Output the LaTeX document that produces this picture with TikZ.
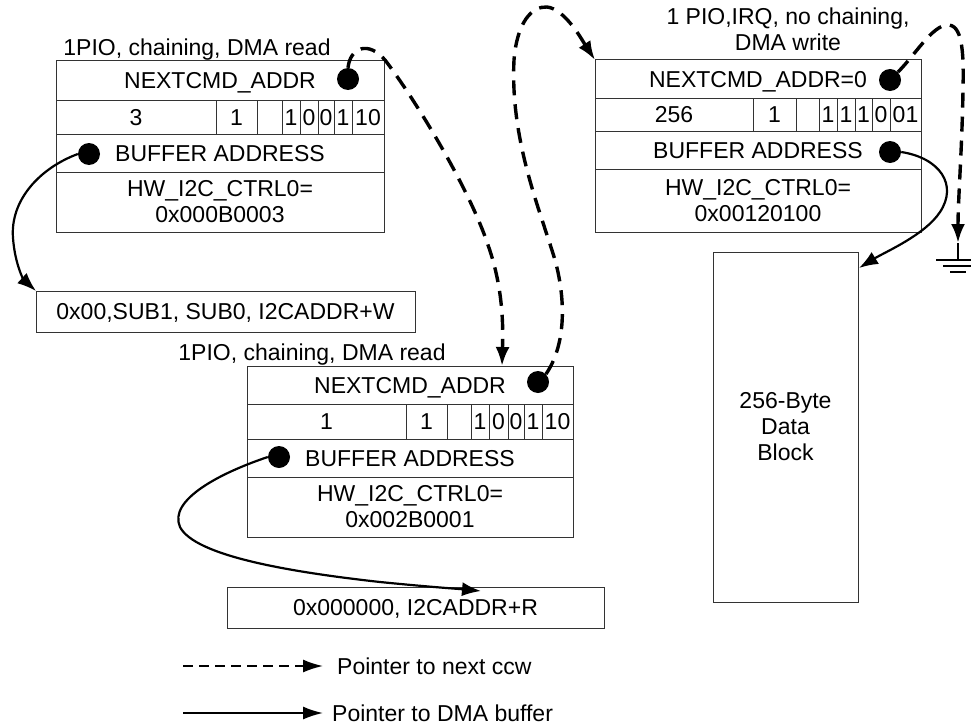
\documentclass[tikz,border=0pt]{standalone}
\usepackage{fontspec}
\setmainfont{Liberation Sans}
\usetikzlibrary{arrows.meta}
\tikzset{
  txt/.style={font=\fontsize{23}{26}\selectfont},
  cell/.style={txt, draw=black!80, line width=1pt, inner sep=0pt, outer sep=0pt,
    text height=16.5pt, text depth=0pt},
  mcell/.style={txt, draw=black!80, line width=1pt, inner sep=0pt, outer sep=0pt, align=center},
  lbl/.style={txt, inner sep=0pt},
  dotn/.style={circle, fill=black, inner sep=0pt, minimum size=22pt},
  nptr/.style={line width=3.4pt, dash pattern=on 15pt off 9pt, line cap=butt,
    -{Latex[length=19pt,width=14pt]}},
  dptr/.style={line width=2.2pt, -{Latex[length=19pt,width=14pt]}},
  lgdash/.style={line width=1.8pt, dash pattern=on 10pt off 6pt, -{Latex[length=20pt,width=13pt]}},
  lgsolid/.style={line width=1.8pt, -{Latex[length=20pt,width=13pt]}},
}
\newcommand\cellbox[6]{%
  \pgfmathsetmacro\cellW{#4-#2}\pgfmathsetmacro\cellH{#5-#3}%
  \node[cell, minimum width=\cellW pt, minimum height=\cellH pt, anchor=north west] (#1) at (#2,#3) {#6};}
\newcommand\mcellbox[6]{%
  \pgfmathsetmacro\cellW{#4-#2}\pgfmathsetmacro\cellH{#5-#3}%
  \node[mcell, minimum width=\cellW pt, minimum height=\cellH pt, anchor=north west] (#1) at (#2,#3) {#6};}
\begin{document}
\begin{tikzpicture}[x=1pt, y=-1pt]
\useasboundingbox (0,0) rectangle (971,725);

% ---------- Block 1 ----------
\node[lbl, anchor=base] (lab1) at (197,56) {1PIO, chaining, DMA read};
\cellbox{b1r1}{56}{61}{384}{100}{NEXTCMD\_ADDR}
\cellbox{b1c1}{56}{100}{216}{134}{3}
\cellbox{b1c2}{216}{100}{257}{134}{1}
\cellbox{b1c3}{257}{100}{282}{134}{}
\cellbox{b1c4}{282}{100}{300}{134}{1}
\cellbox{b1c5}{300}{100}{318}{134}{0}
\cellbox{b1c6}{318}{100}{334}{134}{0}
\cellbox{b1c7}{334}{100}{352}{134}{1}
\cellbox{b1c8}{352}{100}{384}{134}{10}
\cellbox{b1r3}{56}{134}{384}{172}{BUFFER ADDRESS}
\mcellbox{b1r4}{56}{172}{384}{232}{HW\_I2C\_CTRL0=\\0x000B0003}
\node[dotn] (d1n) at (348,79) {};
\node[dotn] (d1b) at (89,154) {};

% ---------- Block 2 ----------
\node[lbl, align=center, anchor=north] (lab2) at (788,8) {1 PIO,IRQ, no chaining,\\DMA write};
\cellbox{b2r1}{595}{60}{921}{98}{NEXTCMD\_ADDR=0}
\cellbox{b2c1}{595}{98}{753}{131}{256}
\cellbox{b2c2}{753}{98}{796}{131}{1}
\cellbox{b2c3}{796}{98}{819}{131}{}
\cellbox{b2c4}{819}{98}{837}{131}{1}
\cellbox{b2c5}{837}{98}{855}{131}{1}
\cellbox{b2c6}{855}{98}{872}{131}{1}
\cellbox{b2c7}{872}{98}{890}{131}{0}
\cellbox{b2c8}{890}{98}{921}{131}{01}
\cellbox{b2r3}{595}{131}{921}{169}{BUFFER ADDRESS}
\mcellbox{b2r4}{595}{169}{921}{232}{HW\_I2C\_CTRL0=\\0x00120100}
\node[dotn] (d2n) at (890,80) {};
\node[dotn] (d2b) at (890,152) {};

% ---------- Block 3 ----------
\node[lbl, anchor=base] (lab3) at (312,360) {1PIO, chaining, DMA read};
\cellbox{b3r1}{247}{366}{573}{404}{NEXTCMD\_ADDR}
\cellbox{b3c1}{247}{404}{406}{439}{1}
\cellbox{b3c2}{406}{404}{447}{439}{1}
\cellbox{b3c3}{447}{404}{471}{439}{}
\cellbox{b3c4}{471}{404}{489}{439}{1}
\cellbox{b3c5}{489}{404}{508}{439}{0}
\cellbox{b3c6}{508}{404}{524}{439}{0}
\cellbox{b3c7}{524}{404}{542}{439}{1}
\cellbox{b3c8}{542}{404}{573}{439}{10}
\cellbox{b3r3}{247}{439}{573}{477}{BUFFER ADDRESS}
\mcellbox{b3r4}{247}{477}{573}{537}{HW\_I2C\_CTRL0=\\0x002B0001}
\node[dotn] (d3n) at (538,382) {};
\node[dotn] (d3b) at (279,457) {};

% ---------- Buffers ----------
\cellbox{bufW}{36}{291}{415}{332}{0x00,SUB1, SUB0, I2CADDR+W}
\cellbox{bufR}{227}{587}{604}{628}{0x000000, I2CADDR+R}
\mcellbox{data}{713}{252}{858}{602}{256-Byte\\Data\\Block}

% ---------- coordinates ----------
\coordinate (e1) at (502,366);
\coordinate (e2) at (595,60);
\coordinate (gnd) at (958,243);
\coordinate (eB) at (859,268);
\coordinate (eC) at (481,591);

% ---------- dashed pointers ----------
\draw[nptr] (d1n.north) .. controls (350,48) and (368,40) .. (385,60)
  .. controls (412,95) and (468,185) .. (488,245)
  .. controls (504,290) and (503,330) .. (e1);
\draw[nptr] (d3n.north east) .. controls (566,345) and (566,300) .. (555,260)
  .. controls (540,210) and (510,140) .. (514,60)
  .. controls (517,22) and (532,6) .. (547,7)
  .. controls (565,9) and (582,40) .. (e2);
\draw[nptr] (d2n.north east) .. controls (915,55) and (932,26) .. (947,25)
  .. controls (962,24) and (964,50) .. (963,90)
  .. controls (962,150) and (958,200) .. (gnd);

% ground
\draw[line width=1.6pt] (gnd) -- (958,260);
\draw[line width=1.6pt] (936,260) -- (980,260);
\draw[line width=1.6pt] (943,266) -- (973,266);
\draw[line width=1.6pt] (950,272) -- (966,272);

% ---------- solid pointers ----------
\draw[dptr] (d1b.west) .. controls (40,168) and (10,200) .. (13,238)
  .. controls (15,265) and (24,280) .. (bufW.north west);
\draw[dptr] (d2b.east) .. controls (940,158) and (958,185) .. (940,212)
  .. controls (925,235) and (885,252) .. (eB);
\draw[dptr] (d3b.west) .. controls (220,473) and (168,500) .. (180,527)
  .. controls (195,556) and (290,572) .. (380,582)
  .. controls (430,587) and (460,589) .. (eC);

% ---------- legend ----------
\coordinate (la1) at (183,666);
\coordinate (la2) at (323,666);
\coordinate (lb1) at (183,713);
\coordinate (lb2) at (323,713);
\draw[lgdash] (la1) -- (la2);
\draw[lgsolid] (lb1) -- (lb2);
\node[lbl, anchor=west, text height=16.5pt, text depth=0pt] (lt1) at (337,666) {Pointer to next ccw};
\node[lbl, anchor=west, text height=16.5pt, text depth=0pt] (lt2) at (332,713) {Pointer to DMA buffer};
\end{tikzpicture}
\end{document}
